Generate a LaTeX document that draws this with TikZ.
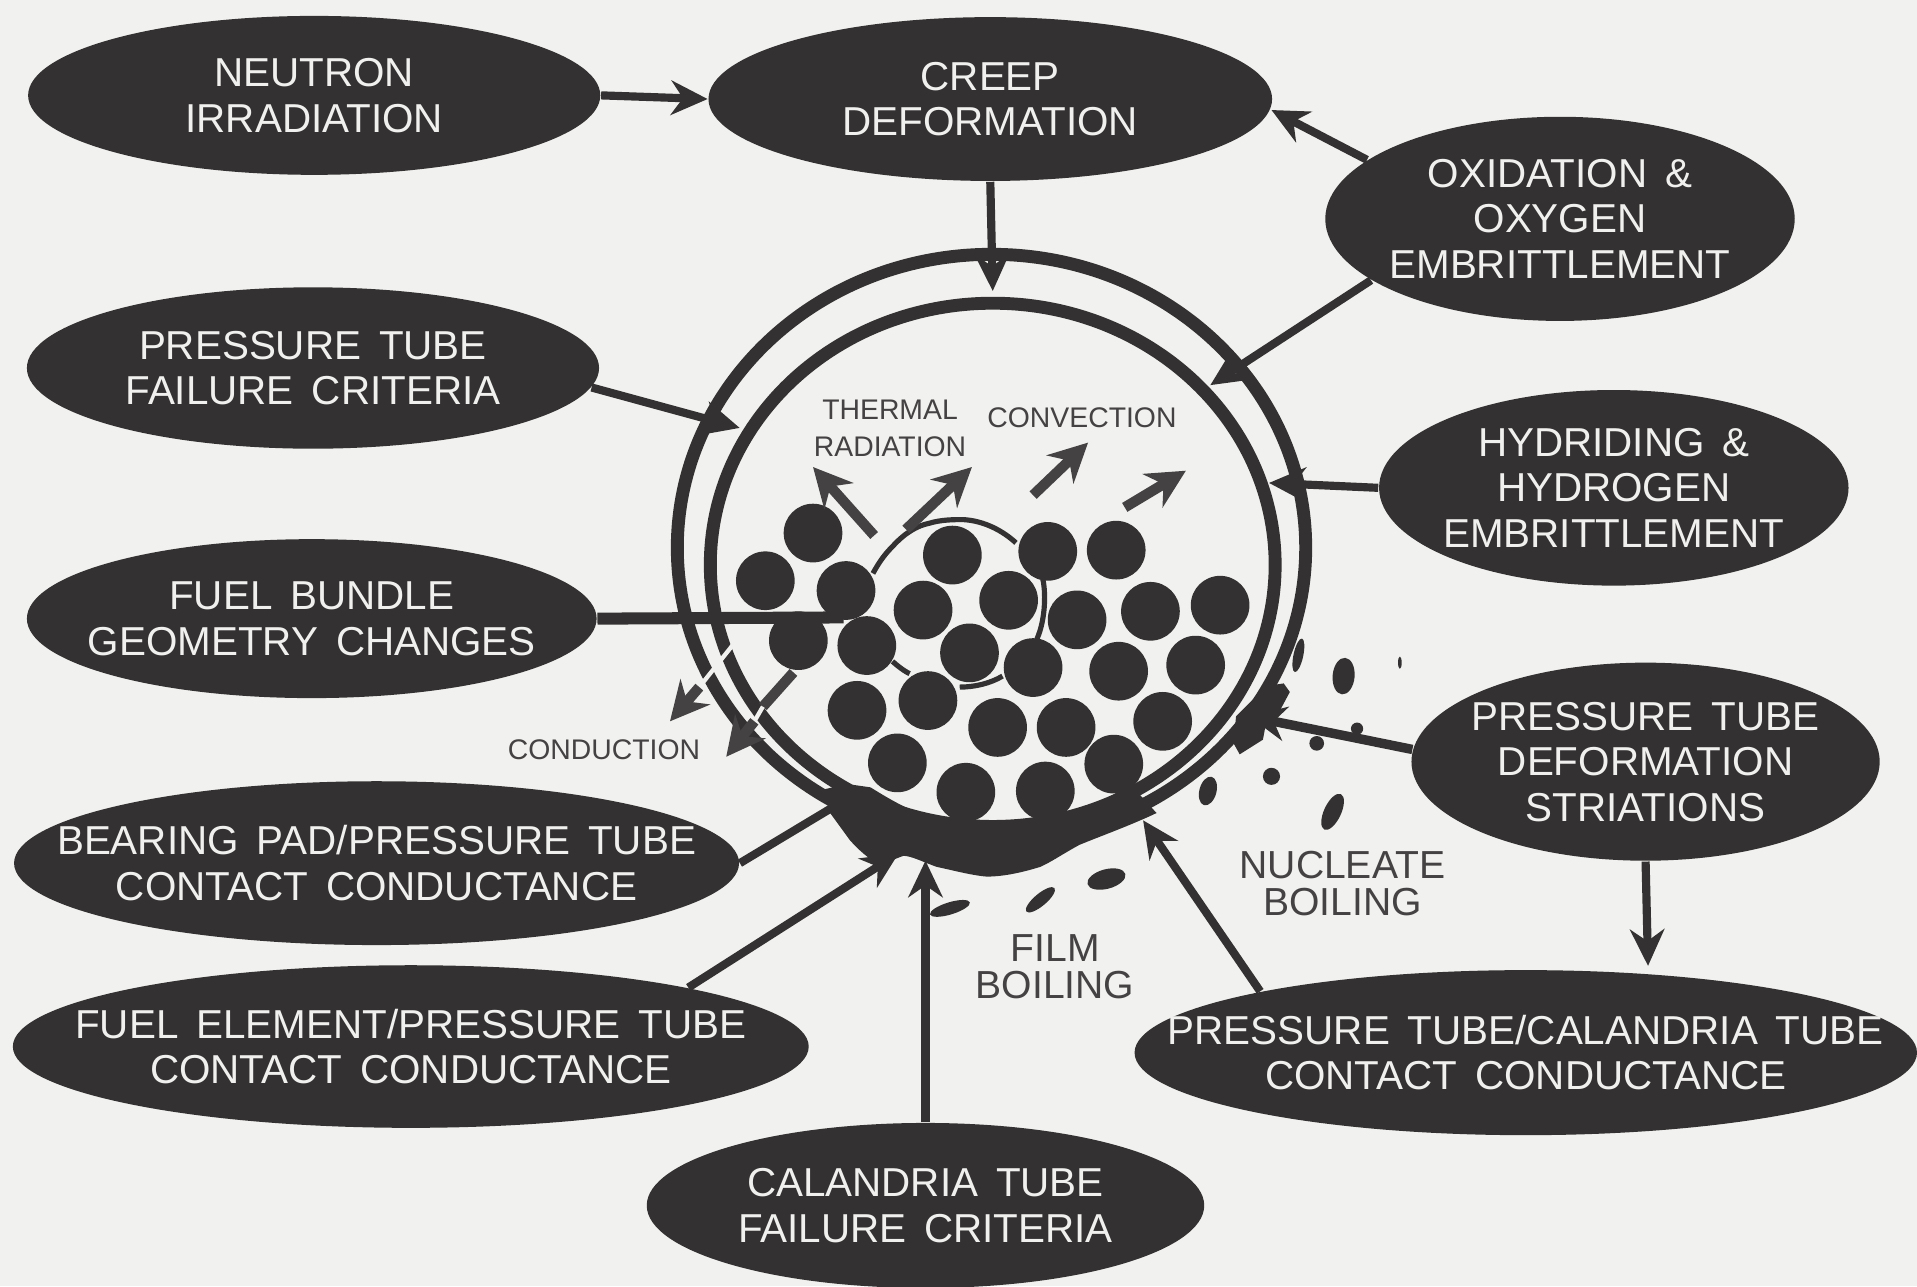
\documentclass[tikz,border=0pt]{standalone}
\usepackage{fontspec}
\setmainfont[WordSpace=1.6]{Liberation Sans}
\usetikzlibrary{arrows.meta,positioning,calc,shapes.geometric}
\definecolor{paper}{HTML}{F1F1EF}
\definecolor{ink}{HTML}{333131}
\definecolor{chalk}{HTML}{F0F0EE}
\definecolor{pencil}{HTML}{444242}
\tikzstyle{factor} = [ellipse, fill=ink, text=chalk, align=center, inner xsep=-3cm, inner ysep=-1cm,
font=\fontsize{9.4}{10.6}\selectfont]
\tikzstyle{rod} = [circle, fill=ink, inner sep=0pt, minimum size=0.48cm]
\tikzstyle{tag} = [text=pencil, align=center, inner sep=0pt, font=\fontsize{9.1}{8.6}\selectfont]
\tikzstyle{smalltag} = [text=pencil, align=center, inner sep=0pt, font=\fontsize{6.6}{8.6}\selectfont]
\tikzstyle{line} = [draw=ink, -{Stealth[length=8.5pt,width=8pt]}, line width=1.9pt]
\tikzstyle{plain} = [draw=ink, line width=1.9pt]
\tikzstyle{heat} = [draw=pencil, -{Stealth[length=9pt,width=9pt]}, line width=2.4pt]

\begin{document}
\begin{tikzpicture}[x=0.1mm, y=-0.1mm]
	\useasboundingbox (0,0) rectangle (1568,1052);
	\fill [paper] (0,0) rectangle (1568,1052);
	% Place nodes
	\node [factor, minimum width=4.68cm, minimum height=1.30cm] (neutron) at (257,78) {NEUTRON\\IRRADIATION};
	\node [factor, minimum width=4.61cm, minimum height=1.34cm] (creep) at (810,81) {CREEP\\DEFORMATION};
	\node [factor, minimum width=3.84cm, minimum height=1.67cm] (oxidation) at (1276,179) {OXIDATION \&\\OXYGEN\\EMBRITTLEMENT};
	\node [factor, minimum width=4.68cm, minimum height=1.32cm] (tube-failure) at (256,301) {PRESSURE TUBE\\FAILURE CRITERIA};
	\node [factor, minimum width=3.84cm, minimum height=1.60cm] (hydriding) at (1320,399) {HYDRIDING \&\\HYDROGEN\\EMBRITTLEMENT};
	\node [factor, minimum width=4.66cm, minimum height=1.30cm] (geometry) at (255,506) {FUEL BUNDLE\\GEOMETRY CHANGES};
	\node [factor, minimum width=3.83cm, minimum height=1.62cm] (striations) at (1346,623) {PRESSURE TUBE\\DEFORMATION\\STRIATIONS};
	\node [factor, minimum width=5.93cm, minimum height=1.34cm] (bearing) at (308,706) {BEARING PAD/PRESSURE TUBE\\CONTACT CONDUCTANCE};
	\node [factor, minimum width=6.51cm, minimum height=1.33cm] (element) at (336,856) {FUEL ELEMENT/PRESSURE TUBE\\CONTACT CONDUCTANCE};
	\node [factor, minimum width=6.40cm, minimum height=1.35cm] (contact) at (1248,861) {PRESSURE TUBE/CALANDRIA TUBE\\CONTACT CONDUCTANCE};
	\node [factor, minimum width=4.56cm, minimum height=1.35cm] (calandria) at (757,986) {CALANDRIA TUBE\\FAILURE CRITERIA};
	% Free ends of the connectors
	\foreach \name/\x/\y in {tip-creep/812/238, tip-side/1040/90, tip-oxid/990/315, tip-failure/605/350, tip-hydr/1038/395,
		tip-geom/690/505, tip-stri/1022/586, tip-contact/1348/790, tip-bearing/680/661, tip-element/735/698,
		tip-cal/757/704, tip-tube/935/671, rad-a/715/438, rad-b/665/382, rad-c/741/433, rad-d/795/382,
		con-a/845/405, con-b/890/362, con-c/920/415, con-d/970/385, cond-a/603/523, cond-e/572/562, cond-b/548/590,
		cond-c/649/550, cond-f/624/578, cond-g/617/590, cond-d/594/619}
	{\coordinate (\name) at (\x,\y);}
	% Tubes
	\draw [ink, line width=3pt] (811,448) ellipse [x radius=2.57cm, y radius=2.40cm];
	\draw [ink, line width=3pt] (812,462) ellipse [x radius=2.31cm, y radius=2.14cm];
	\fill [ink] (673,646) .. controls (680,644) and (690,642) .. (698,642) -- (712,644) .. controls (725,652) and (735,658) .. (747,663)
		.. controls (765,670) and (780,674) .. (799,674) .. controls (815,674) and (830,674) .. (845,672)
		.. controls (870,668) and (890,660) .. (911,650) -- (924,641) -- (946,665) .. controls (925,675) and (900,684) .. (883,691)
		.. controls (870,698) and (860,705) .. (851,709) .. controls (835,714) and (820,717) .. (807,717)
		.. controls (795,716) and (780,712) .. (766,709) .. controls (755,705) and (745,700) .. (739,700)
		.. controls (733,702) and (727,705) .. (720,708) .. controls (710,702) and (702,695) .. (695,687) -- (679,665) -- cycle;
	% Hot zone
	\draw [ink, line width=1.2pt] (714,469) .. controls (720,458) and (725,452) .. (730,447) .. controls (740,436) and (750,430) .. (760,428)
		.. controls (770,425) and (780,425) .. (788,425) .. controls (805,426) and (820,434) .. (831,444);
	\draw [ink, line width=1.2pt] (853,474) .. controls (855,482) and (856,505) .. (848,523);
	\draw [ink, line width=1.2pt] (730,541) .. controls (738,548) and (742,550) .. (744,551);
	\draw [ink, line width=1.2pt] (785,562) .. controls (797,562) and (810,559) .. (820,553);
	% Fuel rods
	\foreach \x/\y [count=\i] in {665/436, 626/475, 692/483, 653/524, 709/528, 779/454, 755/499, 825/491,
		793/534, 857/451, 913/450, 881/507, 941/500, 998/495, 845/546, 915/549, 978/544, 759/573, 701/581,
		816/595, 872/595, 951/590, 734/624, 790/648, 855/647, 911/625}
	{\node [rod] (rod-\i) at (\x,\y) {};}
	% Boiling
	\foreach \x/\y/\rx/\ry/\a in {1062/536/4/14/-12, 1099/553/9/15/-5, 988/647/7/12/-15, 1040/635/7/7/0, 1090/664/7/16/-25,
		851/736/5/15/-50, 905/719/8/16/-75, 777/743/5/17/-73, 1077/608/6/6/0, 1110/596/5/5/0, 1145/542/1.5/5/0}
	{\fill [ink, rotate around={\a:(\x,\y)}] (\x,\y) ellipse [x radius=\rx*0.01cm, y radius=\ry*0.01cm];}
	\fill [ink] (1011,586) -- (1036,561) -- (1050,559) -- (1055,566) -- (1047,581) -- (1036,589) -- (1033,605) -- (1014,617) -- (1009,608) -- cycle;
	% Connectors
	\path [line] (neutron.east) -- (creep.west);
	\path [line] (creep.south) -- (tip-creep);
	\path [line] (oxidation.163) -- (tip-side);
	\path [line] (oxidation.198) -- (tip-oxid);
	\path [line] (tube-failure.-4.5) -- (tip-failure);
	\path [line] (hydriding.west) -- (tip-hydr);
	\path [plain, line width=2.8pt] (geometry.east) -- (tip-geom);
	\path [line, line width=2.2pt] (striations.177.6) -- (tip-stri);
	\path [line] (striations.south) -- (tip-contact);
	\path [plain] (bearing.east) -- (tip-bearing);
	\path [line] (element.12.6) -- (tip-element);
	\path [line] (calandria.north) -- (tip-cal);
	\path [line] (contact.167.5) -- (tip-tube);
	% Heat paths
	\path [heat] (rad-a) -- (rad-b);
	\path [heat] (rad-c) -- (rad-d);
	\path [heat] (con-a) -- (con-b);
	\path [heat] (con-c) -- (con-d);
	\path [draw=paper, line width=1pt] (cond-a) -- (cond-e);
	\path [heat] (cond-e) -- (cond-b);
	\path [draw=pencil, line width=2.4pt] (cond-c) -- (cond-f);
	\path [draw=paper, line width=1pt] (cond-f) -- (cond-g);
	\path [heat] (cond-g) -- (cond-d);
	% Labels
	\node [smalltag] (thermal) at (728,350) {THERMAL\\RADIATION};
	\node [smalltag] (convection) at (885,342) {CONVECTION};
	\node [smalltag] (conduction) at (494,613) {CONDUCTION};
	\node [tag] (nucleate) at (1098,723) {NUCLEATE\\BOILING};
	\node [tag] (film) at (863,791) {FILM\\BOILING};
\end{tikzpicture}
\end{document}
